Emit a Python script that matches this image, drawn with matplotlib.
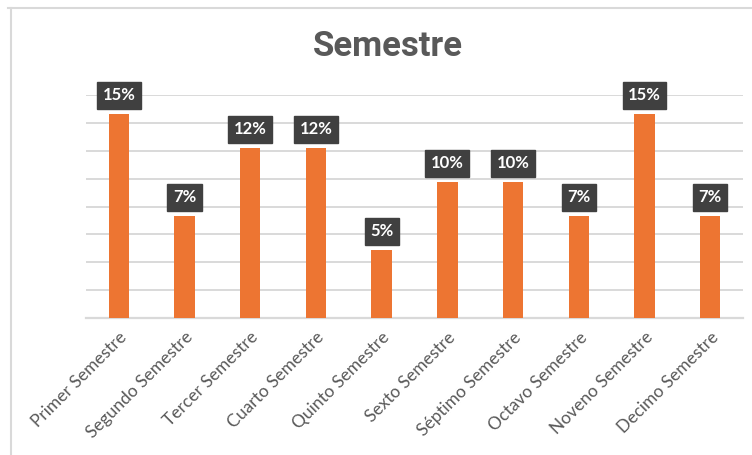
import matplotlib
matplotlib.use("Agg")
import matplotlib.pyplot as plt
from matplotlib.lines import Line2D

categories = ["Primer Semestre", "Segundo Semestre", "Tercer Semestre", "Cuarto Semestre",
              "Quinto Semestre", "Sexto Semestre", "Séptimo Semestre", "Octavo Semestre",
              "Noveno Semestre", "Decimo Semestre"]
values = [14.63, 7.32, 12.20, 12.20, 4.88, 9.76, 9.76, 7.32, 14.63, 7.32]
title = "Semestre"

bar_color = "#ED7532"
text_gray = "#595959"
grid_gray = "#D9D9D9"

fig = plt.figure(figsize=(7.52, 4.55), dpi=100)
ax = fig.add_axes([86/752, 1 - 318/455, (743 - 86)/752, (318 - 95)/455])

x = list(range(len(categories)))
ax.bar(x, values, width=0.31, color=bar_color, zorder=3)
ax.set_xlim(-0.5, len(categories) - 0.5)
ax.set_ylim(0, 16)
ax.set_yticks(range(0, 17, 2))
ax.yaxis.grid(True, color=grid_gray, linewidth=1.4, zorder=0)
ax.set_yticklabels([])
ax.tick_params(axis="y", length=0)
ax.tick_params(axis="x", length=0, pad=8)
for s in ["top", "right", "left"]:
    ax.spines[s].set_visible(False)
ax.spines["bottom"].set_color(grid_gray)
ax.spines["bottom"].set_linewidth(1.6)

ax.set_xticks(x)
ax.set_xticklabels(categories, rotation=45, ha="right", rotation_mode="anchor",
                   fontsize=12.5, color=text_gray, family=["Lato", "DejaVu Sans"])

for xi, v in zip(x, values):
    ax.annotate(f"{v:.0f}%", xy=(xi, v), xytext=(0, 13.5), textcoords="offset points",
                ha="center", va="center", color="white", fontsize=12, fontweight="bold",
                family=["Lato", "DejaVu Sans"],
                bbox=dict(boxstyle="square,pad=0.33", fc="#404040", ec="#404040"), zorder=5)

fig.text(388/752, 1 - 46/455, title, ha="center", va="center", fontsize=25,
         fontweight="bold", color=text_gray, family=["Roboto", "DejaVu Sans"])

# chart border
fig.add_artist(Line2D([8/752, 1], [1 - 8/455, 1 - 8/455], transform=fig.transFigure,
                      color=grid_gray, linewidth=1.5))
fig.add_artist(Line2D([11/752, 11/752], [0, 1 - 8/455], transform=fig.transFigure,
                      color=grid_gray, linewidth=1.5))

fig.savefig("out.png", dpi=100)
